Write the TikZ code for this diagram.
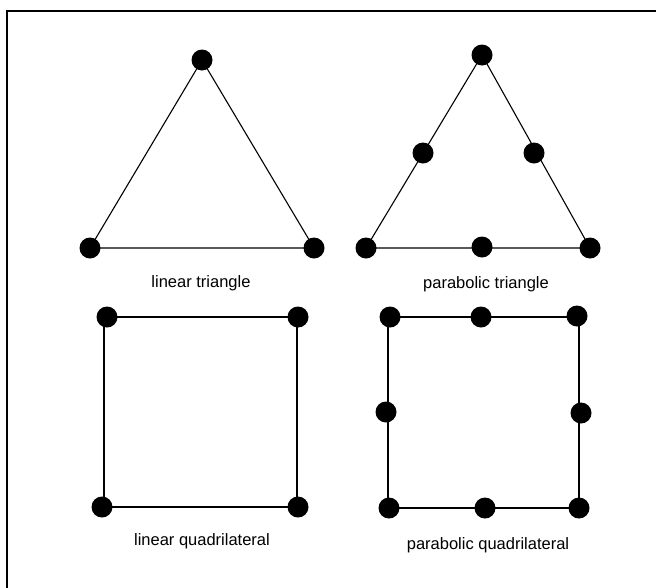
\documentclass[tikz,border=0pt]{standalone}
\usepackage{fontspec}
\setmainfont{Liberation Sans}
\begin{document}
\begin{tikzpicture}[x=1pt,y=-1pt,
  dot/.style={circle,fill=black,inner sep=0pt,minimum width=19pt,minimum height=21pt},
  edge/.style={draw=black,line width=1.1pt},
  lbl/.style={font=\fontsize{16.5}{19}\selectfont,inner sep=0pt}]
\useasboundingbox (0,0) rectangle (656,587);
\begin{scope}
\clip (0,0) rectangle (656,587);
\draw[line width=2pt] (7,600) -- (7,11) -- (670,11);
\end{scope}
% linear triangle
\draw[edge] (202,60) coordinate (a1) -- (90,248) coordinate (a2) -- (314,248) coordinate (a3) -- cycle;
\node[dot] (A1) at (a1) {};
\node[dot] (A2) at (a2) {};
\node[dot] (A3) at (a3) {};
\node[lbl] (la) at (201,283) {linear triangle};
% parabolic triangle
\draw[edge] (482,55) coordinate (b1) -- (366,248) coordinate (b4) -- (590,248) coordinate (b6) -- cycle;
\node[dot] (B1) at (b1) {};
\node[dot] (B2) at (423,153) {};
\node[dot] (B3) at (534,153) {};
\node[dot] (B4) at (b4) {};
\node[dot] (B5) at (482,247) {};
\node[dot] (B6) at (b6) {};
\node[lbl] (lb) at (486,284) {parabolic triangle};
% linear quadrilateral
\draw[edge] (104,317) coordinate (c1) -- (297,317) coordinate (c2) -- (297,507) coordinate (c3) -- (104,507) coordinate (c4) -- cycle;
\node[dot] (C1) at (107,317) {};
\node[dot] (C2) at (298,317) {};
\node[dot] (C3) at (298,507) {};
\node[dot] (C4) at (102,507) {};
\node[lbl] (lc) at (202,541) {linear quadrilateral};
% parabolic quadrilateral
\draw[edge] (388,317) coordinate (d1) -- (579,317) coordinate (d3) -- (579,508) coordinate (d5) -- (388,508) coordinate (d7) -- cycle;
\node[dot] (D1) at (390,317) {};
\node[dot] (D2) at (481,317) {};
\node[dot] (D3) at (577,316) {};
\node[dot] (D4) at (581,413) {};
\node[dot] (D5) at (579,508) {};
\node[dot] (D6) at (485,508) {};
\node[dot] (D7) at (389,508) {};
\node[dot] (D8) at (386,412) {};
\node[lbl] (ld) at (488,545) {parabolic quadrilateral};
\end{tikzpicture}
\end{document}
